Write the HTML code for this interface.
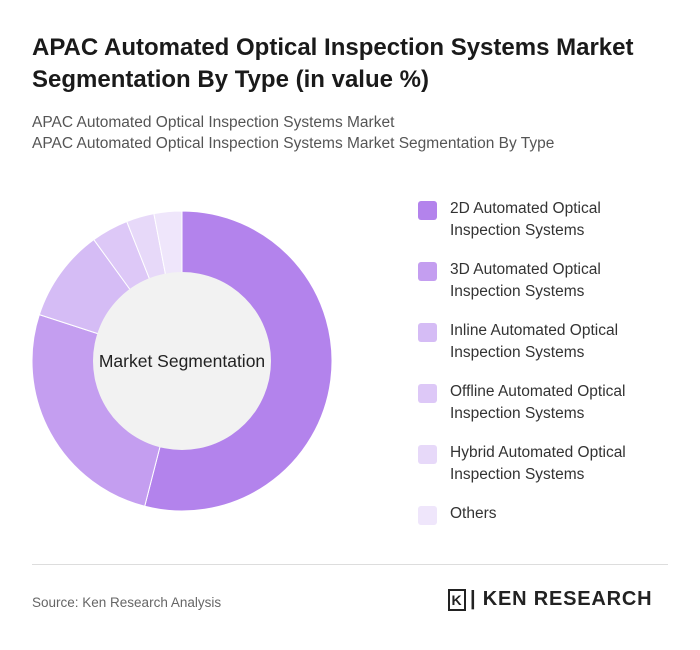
<!DOCTYPE html>
<html><head><meta charset="utf-8"><style>
body{margin:0;width:700px;height:650px;background:#fff;font-family:"Liberation Sans",sans-serif;position:relative;overflow:hidden}
.t{position:absolute;left:32px;top:32px;font-size:24px;font-weight:bold;color:#1a1a1a;line-height:32px;width:650px}
.s{position:absolute;left:32px;font-size:15.5px;color:#555}
.sw{position:absolute;left:418px;width:19px;height:19px;border-radius:3px}
.lt{position:absolute;left:450px;font-size:15.5px;color:#333;line-height:22px}
</style></head><body>
<div class="t">APAC Automated Optical Inspection Systems Market Segmentation By Type (in value %)</div>
<div class="s" style="top:114px">APAC Automated Optical Inspection Systems Market</div>
<div class="s" style="top:135px">APAC Automated Optical Inspection Systems Market Segmentation By Type</div>
<svg id="ch" width="700" height="650" style="position:absolute;left:0;top:0"></svg>
<div id="legend"></div>
<div style="position:absolute;left:32px;right:32px;top:564px;border-top:1px solid #ddd"></div>
<div class="s" style="top:595px;font-size:13.5px;color:#666">Source: Ken Research Analysis</div>
<div style="position:absolute;left:448px;top:588px;font-size:20px;font-weight:bold;color:#222;letter-spacing:0.8px"><span style="display:inline-block;border:2px solid #222;width:14px;height:18px;text-align:center;font-size:14px;line-height:18px;margin-right:4px">K</span>| KEN RESEARCH</div>
<script>
const categories=["2D Automated Optical|Inspection Systems","3D Automated Optical|Inspection Systems","Inline Automated Optical|Inspection Systems","Offline Automated Optical|Inspection Systems","Hybrid Automated Optical|Inspection Systems","Others"];
const values=[54,26,10,4,3,3];
const colors=["#b383ec","#c49ef0","#d5bcf5","#ddc8f7","#e7d9f9","#efe6fb"];
const svg=document.getElementById('ch');const NS="http://www.w3.org/2000/svg";
const cx=182,cy=361,R=150,r=89;
const tot=values.reduce((a,b)=>a+b,0);
let a0=0;
function pt(a,rad){return [cx+rad*Math.sin(a),cy-rad*Math.cos(a)];}
values.forEach((v,i)=>{
 const a1=a0+v/tot*2*Math.PI;
 const p=document.createElementNS(NS,'path');
 const [x0,y0]=pt(a0,R),[x1,y1]=pt(a1,R);
 const lg=(a1-a0)>Math.PI?1:0;
 p.setAttribute('d',`M${cx},${cy}L${x0},${y0}A${R},${R} 0 ${lg} 1 ${x1},${y1}Z`);
 p.setAttribute('fill',colors[i]);p.setAttribute('stroke','#fff');p.setAttribute('stroke-width','1');
 
 
 svg.appendChild(p);a0=a1;
});
const c=document.createElementNS(NS,'circle');c.setAttribute('cx',cx);c.setAttribute('cy',cy);c.setAttribute('r',r);c.setAttribute('fill','#f2f2f2');


svg.appendChild(c);
const t=document.createElementNS(NS,'text');t.setAttribute('x',cx);t.setAttribute('y',cy+6);t.setAttribute('text-anchor','middle');t.setAttribute('font-size','17.5');t.setAttribute('fill','#222');t.setAttribute('font-family','Liberation Sans, sans-serif');t.textContent='Market Segmentation';


svg.appendChild(t);
const lg=document.getElementById('legend');
categories.forEach((n,i)=>{
 const y=200+i*61;
 const s=document.createElement('div');s.className='sw';s.style.top=(y+1)+'px';s.style.background=colors[i];
 
 
 lg.appendChild(s);
 const l=document.createElement('div');l.className='lt';l.style.top=(y-2)+'px';l.innerHTML=n.split('|').join('<br>');
 
 
 lg.appendChild(l);
});
</script>
</body></html>
